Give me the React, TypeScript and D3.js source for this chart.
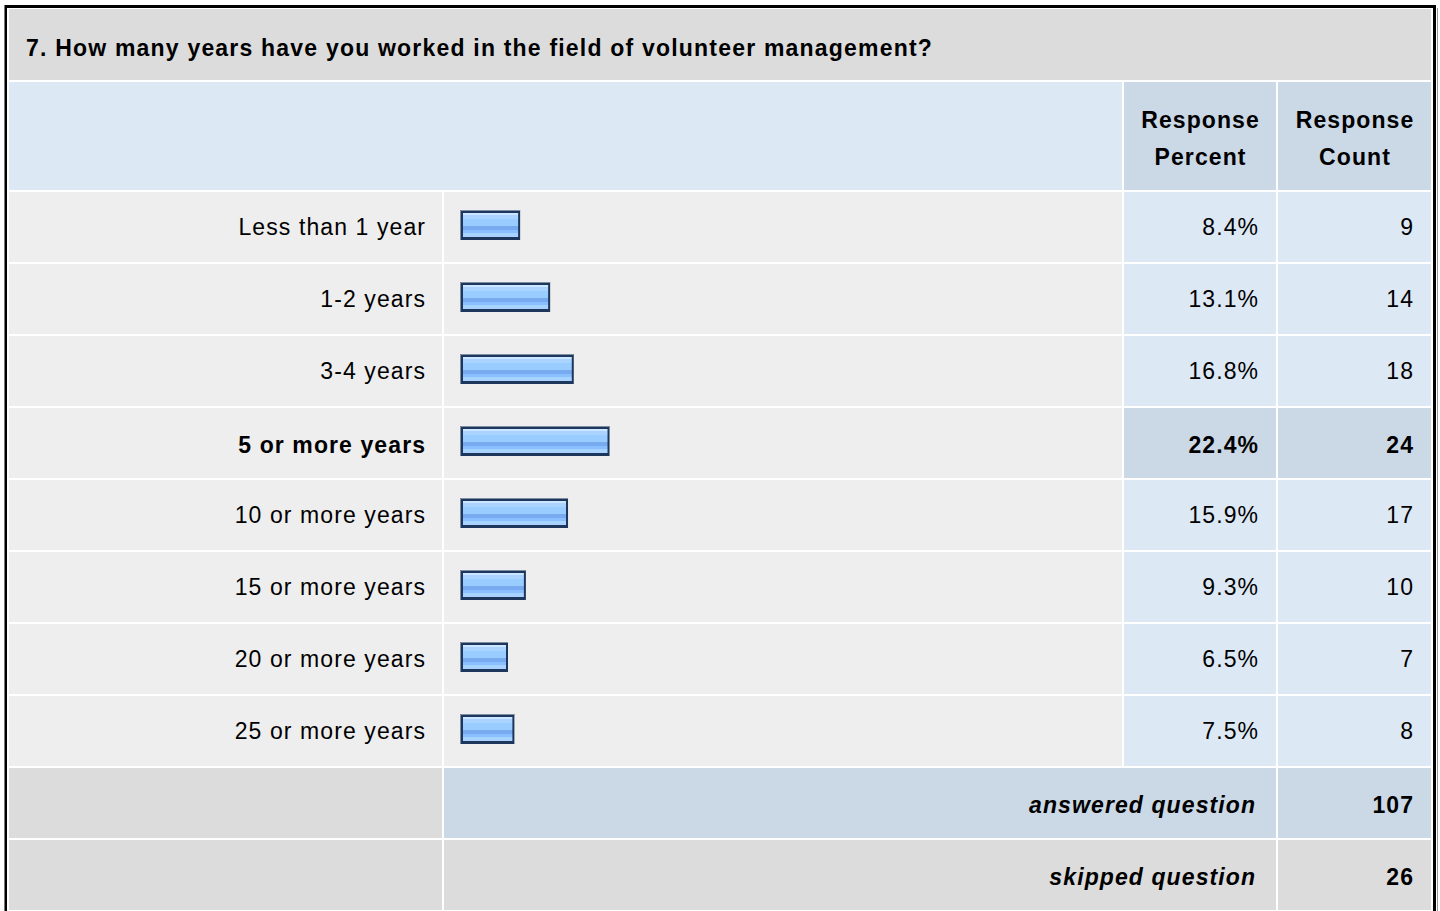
import React from "react";
import * as d3 from "d3";

const question = "7. How many years have you worked in the field of volunteer management?";
const categories = [
  "Less than 1 year",
  "1-2 years",
  "3-4 years",
  "5 or more years",
  "10 or more years",
  "15 or more years",
  "20 or more years",
  "25 or more years",
];
const percents = [8.4, 13.1, 16.8, 22.4, 15.9, 9.3, 6.5, 7.5];
const counts = [9, 14, 18, 24, 17, 10, 7, 8];
const headerPercent = ["Response", "Percent"];
const headerCount = ["Response", "Count"];
const answeredLabel = "answered question";
const skippedLabel = "skipped question";
const answeredCount = 107;
const skippedCount = 26;

const W = 1440;
const H = 911;
const FONT = "'Liberation Sans', Arial, Helvetica, sans-serif";
const FS = 23;
const LS = 1.1;

// layout columns
const colLabel = [9, 442];
const colBar = [444, 1122];
const colPct = [1124, 1276];
const colCnt = [1278, 1431];

const C = {
  title: "#dcdcdc",
  headBlue: "#dde8f5",
  headDark: "#cbd8e6",
  rowGray: "#eeeeee",
  cellBlue: "#dde8f5",
  footGray: "#dcdcdc",
  text: "#000000",
};

export default function App() {
  const y = d3
    .scaleBand<string>()
    .domain(categories)
    .range([192, 192 + 72 * categories.length - 2])
    .paddingInner(2 / 72)
    .paddingOuter(0);
  const bw = y.bandwidth();
  const x = d3.scaleLinear().domain([0, 100]).range([0, 638.5]);
  const barCap = 6.5;
  const fmt = (v: number) => d3.format(".1f")(v) + "%";
  const maxCount = d3.max(counts) as number;

  const footTop = 192 + 72 * categories.length;
  const footRows = [
    { label: answeredLabel, value: answeredCount, top: footTop, mid: C.headDark, right: C.headDark },
    { label: skippedLabel, value: skippedCount, top: footTop + 72, mid: C.footGray, right: C.footGray },
  ];

  return (
    <svg
      width={W}
      height={H}
      style={{ position: "absolute", left: 0, top: 0, display: "block" }}
      fontFamily={FONT}
    >
      <defs>
        <linearGradient id="barGrad" x1="0" y1="0" x2="0" y2="1">
          <stop offset="0" stopColor="#cce6ff" />
          <stop offset="0.083" stopColor="#cce6ff" />
          <stop offset="0.083" stopColor="#aad4ff" />
          <stop offset="0.25" stopColor="#aad4ff" />
          <stop offset="0.25" stopColor="#99ccff" />
          <stop offset="0.54" stopColor="#99ccff" />
          <stop offset="0.54" stopColor="#77aaee" />
          <stop offset="0.71" stopColor="#77aaee" />
          <stop offset="0.71" stopColor="#8abfff" />
          <stop offset="0.83" stopColor="#8abfff" />
          <stop offset="0.83" stopColor="#a8d2ff" />
          <stop offset="1" stopColor="#a8d2ff" />
        </linearGradient>
      </defs>
      <rect x={0} y={0} width={W} height={H} fill="#ffffff" />

      {/* title */}
      <rect x={9} y={9} width={colCnt[1] - 9} height={71} fill={C.title} />
      <text x={26} y={56} fontSize={FS} fontWeight="bold" fill={C.text} letterSpacing={1.2}>
        {question}
      </text>

      {/* header */}
      <rect x={9} y={82} width={colBar[1] - 9} height={108} fill={C.headBlue} />
      {[colPct, colCnt].map((col, i) => (
        <g key={"h" + i}>
          <rect x={col[0]} y={82} width={col[1] - col[0]} height={108} fill={C.headDark} />
          {(i === 0 ? headerPercent : headerCount).map((t, j) => (
            <text
              key={j}
              x={(col[0] + col[1]) / 2 + LS / 2}
              y={128 + j * 37}
              textAnchor="middle"
              fontSize={FS}
              fontWeight="bold"
              fill={C.text}
              letterSpacing={LS}
            >
              {t}
            </text>
          ))}
        </g>
      ))}

      {/* rows */}
      {categories.map((cat, i) => {
        const top = y(cat) as number;
        const mid = top + bw / 2;
        const hi = counts[i] === maxCount;
        const ty = mid + (hi ? 10 : 8);
        const w = x(percents[i]) + barCap;
        const bx = colBar[0] + 16;
        const by = top + 18;
        return (
          <g key={cat}>
            <rect x={colLabel[0]} y={top} width={colLabel[1] - colLabel[0]} height={bw} fill={C.rowGray} />
            <rect x={colBar[0]} y={top} width={colBar[1] - colBar[0]} height={bw} fill={C.rowGray} />
            <rect x={colPct[0]} y={top} width={colPct[1] - colPct[0]} height={bw} fill={hi ? C.headDark : C.cellBlue} />
            <rect x={colCnt[0]} y={top} width={colCnt[1] - colCnt[0]} height={bw} fill={hi ? C.headDark : C.cellBlue} />
            <text
              x={colLabel[1] - 17 + LS}
              y={ty}
              textAnchor="end"
              fontSize={FS}
              fontWeight={hi ? "bold" : "normal"}
              fill={C.text}
              letterSpacing={LS}
            >
              {cat}
            </text>
            {/* bar */}
            <rect x={bx} y={by} width={w} height={30} fill="#1c365c" />
            <rect x={bx} y={by} width={w} height={1} fill="#7f8ea4" />
            <rect x={bx} y={by} width={1} height={30} fill="#7f8ea4" />
            <rect x={bx + 3} y={by + 3} width={w - 5} height={24} fill="url(#barGrad)" />
            <text
              x={colPct[1] - 18 + LS}
              y={ty}
              textAnchor="end"
              fontSize={FS}
              fontWeight={hi ? "bold" : "normal"}
              fill={C.text}
              letterSpacing={LS}
            >
              {fmt(percents[i])}
            </text>
            <text
              x={colCnt[1] - 18 + LS}
              y={ty}
              textAnchor="end"
              fontSize={FS}
              fontWeight={hi ? "bold" : "normal"}
              fill={C.text}
              letterSpacing={LS}
            >
              {counts[i]}
            </text>
          </g>
        );
      })}

      {/* footer */}
      {footRows.map((r) => (
        <g key={r.label}>
          <rect x={colLabel[0]} y={r.top} width={colLabel[1] - colLabel[0]} height={bw} fill={C.footGray} />
          <rect x={colBar[0]} y={r.top} width={colPct[1] - colBar[0]} height={bw} fill={r.mid} />
          <rect x={colCnt[0]} y={r.top} width={colCnt[1] - colCnt[0]} height={bw} fill={r.right} />
          <text
            x={colPct[1] - 21 + LS}
            y={r.top + bw / 2 + 10}
            textAnchor="end"
            fontSize={FS}
            fontWeight="bold"
            fontStyle="italic"
            fill={C.text}
            letterSpacing={LS}
          >
            {r.label}
          </text>
          <text
            x={colCnt[1] - 18 + LS}
            y={r.top + bw / 2 + 10}
            textAnchor="end"
            fontSize={FS}
            fontWeight="bold"
            fill={C.text}
            letterSpacing={LS}
          >
            {r.value}
          </text>
        </g>
      ))}

      {/* outer border */}
      <rect x={5.5} y={6.5} width={1429} height={H + 20} fill="none" stroke="#000000" strokeWidth={3} />
      <rect x={1437} y={8} width={1} height={H} fill="#999999" />
      <rect x={4} y={5} width={1} height={H} fill="#777777" />
    </svg>
  );
}
